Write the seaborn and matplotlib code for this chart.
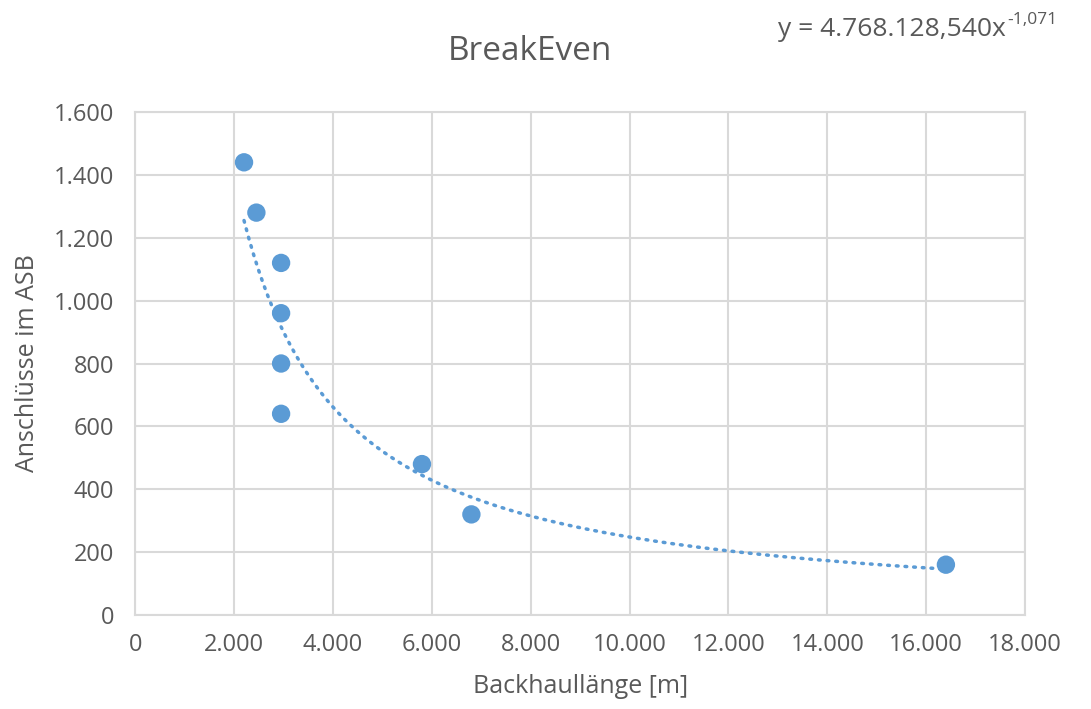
import numpy as np
import pandas as pd
import matplotlib
matplotlib.use('Agg')
import matplotlib.pyplot as plt
import seaborn as sns
from matplotlib.ticker import FuncFormatter

# data
backhaul_m = [2200, 2450, 2950, 2950, 2950, 2950, 5800, 6800, 16400]
anschluesse = [1440, 1280, 1120, 960, 800, 640, 480, 320, 160]

# power trendline as shown in the chart label
trend_a = 4768128.540
trend_b = -1.071

x_ticks = [0, 2000, 4000, 6000, 8000, 10000, 12000, 14000, 16000, 18000]
y_ticks = [0, 200, 400, 600, 800, 1000, 1200, 1400, 1600]

df = pd.DataFrame({'Backhaullänge [m]': backhaul_m, 'Anschlüsse im ASB': anschluesse})

sns.set_style('white')
plt.rcParams['font.family'] = ['Open Sans', 'DejaVu Sans']
text_col = '#595959'
grid_col = '#d9d9d9'
blue = '#5b9bd5'

fig = plt.figure(figsize=(10.91, 7.09), dpi=100)
ax = fig.add_axes([0.124, 0.1326, 0.8155, 0.7094])

xs = np.linspace(min(backhaul_m), max(backhaul_m), 300)
ax.plot(xs, trend_a * xs ** trend_b, color=blue, lw=2.5, linestyle=(0, (0.5, 2.0)),
        dash_capstyle='round', zorder=2)
sns.scatterplot(data=df, x='Backhaullänge [m]', y='Anschlüsse im ASB', ax=ax,
                color=blue, s=175, edgecolor='none', zorder=3)

ax.set_xlim(0, 18000)
ax.set_ylim(0, 1600)
ax.set_xticks(x_ticks)
ax.set_yticks(y_ticks)
fmt = FuncFormatter(lambda v, p: f'{int(v):,}'.replace(',', '.'))
ax.xaxis.set_major_formatter(fmt)
ax.yaxis.set_major_formatter(fmt)
ax.grid(True, color=grid_col, lw=1.5)
ax.set_axisbelow(True)
for s in ax.spines.values():
    s.set_color(grid_col)
    s.set_linewidth(1.5)
ax.tick_params(axis='both', length=0, labelsize=17, colors=text_col)
ax.tick_params(axis='y', pad=15)
ax.tick_params(axis='x', pad=13)

ax.set_xlabel('Backhaullänge [m]', fontsize=18, color=text_col, labelpad=12)
ax.set_ylabel('Anschlüsse im ASB', fontsize=18, color=text_col, labelpad=10)

fig.text(530 / 1091, 1 - 52 / 709, 'BreakEven', fontsize=24, color=text_col,
         ha='center', va='center')

# trendline label, exponent as a separate raised text
eq = fig.text(778 / 1091, 1 - 30 / 709, 'y = 4.768.128,540x',
              fontsize=19, color=text_col, ha='left', va='center')
fig.canvas.draw()
bb = eq.get_window_extent().transformed(fig.transFigure.inverted())
fig.text(bb.x1 + 0.001, 1 - 20 / 709, '-1,071', fontsize=12.5, color=text_col,
         ha='left', va='center')

fig.savefig('out.png', dpi=100)
